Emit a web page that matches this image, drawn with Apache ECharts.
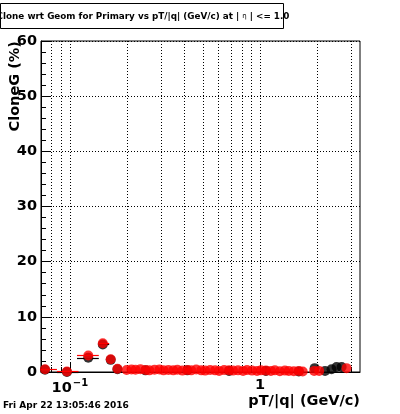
<!DOCTYPE html>
<html><head><meta charset="utf-8">
<script src="https://cdn.jsdelivr.net/npm/echarts@6/dist/echarts.min.js"></script>
<style>html,body{margin:0;padding:0;background:#fff}#c{width:400px;height:414px}</style>
</head><body><div id="c"></div>
<script>
const titlePre = 'Clone wrt Geom for Primary vs pT/|q| (GeV/c) at | ';
const titleEta = 'η';
const titlePost = ' | <= 1.0';
const xTitle = 'pT/|q| (GeV/c)';
const yTitle = 'CloneG (%)';
const dateText = 'Fri Apr 22 13:05:46 2016';

const xMin = 0.0705, xMax = 3.36;
const yMin = 0, yMax = 60, yStep = 10;
const xGridTicks = [0.08, 0.09, 0.1, 0.2, 0.3, 0.4, 0.5, 0.6, 0.7, 0.8, 0.9, 1, 2, 3];
const xMajorTicks = [0.1, 1];

const redX = [0.074, 0.0965, 0.125, 0.149, 0.164, 0.178,
  0.199, 0.211, 0.2215, 0.235, 0.250, 0.262, 0.279, 0.296, 0.311, 0.330,
  0.350, 0.368, 0.391, 0.415, 0.435, 0.462, 0.491, 0.515, 0.547, 0.581,
  0.610, 0.648, 0.688, 0.722, 0.767, 0.815, 0.855, 0.908, 0.965, 1.012,
  1.075, 1.142, 1.198, 1.273, 1.352, 1.418, 1.507, 1.601, 1.679,
  1.929, 2.049, 2.854];
const redY = [0.5, 0.1, 3.0, 5.2, 2.3, 0.6,
  0.35, 0.45, 0.4, 0.5, 0.35, 0.3, 0.4, 0.45, 0.3, 0.35,
  0.3, 0.4, 0.25, 0.35, 0.3, 0.45, 0.3, 0.25, 0.35, 0.3,
  0.2, 0.35, 0.3, 0.25, 0.3, 0.2, 0.35, 0.25, 0.2, 0.3,
  0.25, 0.2, 0.3, 0.15, 0.25, 0.2, 0.15, 0.2, 0.1,
  0.2, 0.2, 0.7];

const blackX = [0.074, 0.0965, 0.125, 0.149, 0.164, 0.178, 0.25, 0.415, 0.688, 1.075, 1.601, 1.94, 2.2, 2.38, 2.53, 2.69];
const blackY = [0.4, 0.0, 2.6, 5.0, 2.2, 0.5, 0.3, 0.3, 0.2, 0.2, 0.1, 0.7, 0.2, 0.5, 0.9, 0.9];

const redErrY = [0.5, 0.1, 3.0, 5.2];
const redErrLo = [0.0705, 0.0855, 0.109, 0.142];
const redErrHi = [0.0855, 0.111, 0.142, 0.161];
const blackErrY = [0.0, 2.6, 5.0];
const blackErrLo = [0.0855, 0.109, 0.142];
const blackErrHi = [0.111, 0.142, 0.161];

const FONT = '"DejaVu Sans", sans-serif';
const chart = echarts.init(document.getElementById('c'), null, {renderer: 'canvas'});

function px(v) { return Math.round(v) + 0.5; }

function errSeries(lo, hi, ys, color, z) {
  return {
    type: 'custom', z: z, silent: true, clip: false,
    data: ys.map((y, i) => [lo[i], hi[i], y]),
    encode: {x: [0, 1], y: 2},
    renderItem(params, api) {
      const a = api.coord([api.value(0), api.value(2)]);
      const b = api.coord([api.value(1), api.value(2)]);
      return {type: 'line', shape: {x1: a[0], y1: px(a[1]), x2: b[0], y2: px(b[1])},
        style: {stroke: color, lineWidth: 1.2}};
    }
  };
}

const option = {
  animation: false,
  backgroundColor: '#fff',
  grid: {left: 41, right: 40, top: 41, bottom: 42, show: true, borderColor: '#000', borderWidth: 1, backgroundColor: 'transparent'},
  xAxis: {
    type: 'log', min: xMin, max: xMax,
    axisLine: {show: true, lineStyle: {color: '#000', width: 1}},
    axisTick: {show: false}, splitLine: {show: false}, minorTick: {show: false},
    axisLabel: {
      margin: 6, color: '#000',
      formatter: function (v) {
        if (Math.abs(Math.log10(v) + 1) < 1e-6) return '{b|10}{s|−1}';
        if (Math.abs(Math.log10(v)) < 1e-6) return '{b|1}';
        return '';
      },
      rich: {
        b: {fontFamily: FONT, fontWeight: 'bold', fontSize: 14.5, color: '#000'},
        s: {fontFamily: FONT, fontWeight: 'bold', fontSize: 10, color: '#000', verticalAlign: 'top', padding: [0, 0, 10, 1]}
      }
    }
  },
  yAxis: {
    type: 'value', min: yMin, max: yMax, interval: yStep,
    axisLine: {show: true, lineStyle: {color: '#000', width: 1}},
    axisTick: {show: true, inside: true, length: 9, lineStyle: {color: '#000'}},
    minorTick: {show: true, splitNumber: 5, length: 5, lineStyle: {color: '#000'}},
    splitLine: {show: true, lineStyle: {color: '#000', width: 1, type: [1, 2]}},
    axisLabel: {margin: 4, color: '#000', fontFamily: FONT, fontWeight: 'bold', fontSize: 14.5}
  },
  graphic: [
    {type: 'rect', left: 0, top: 3, shape: {x: 0.5, y: 0.5, width: 283, height: 25}, style: {fill: '#fff', stroke: '#000', lineWidth: 1}, z: 10},
    {type: 'text', x: 143, y: 16.5, z: 11, style: {
      text: '{a|' + titlePre + '}{e|' + titleEta + '}{a|' + titlePost + '}',
      textAlign: 'center', textVerticalAlign: 'middle', align: 'center', verticalAlign: 'middle',
      rich: {
        a: {fontFamily: FONT, fontWeight: 'bold', fontSize: 8.8, fill: '#000'},
        e: {fontFamily: FONT, fontWeight: 'normal', fontSize: 7, fill: '#000'}
      }
    }},
    {type: 'text', x: 15, y: 41, rotation: Math.PI / 2, z: 11, style: {
      text: yTitle, font: 'bold 14.5px ' + FONT, fill: '#000',
      textAlign: 'right', textVerticalAlign: 'middle', align: 'right', verticalAlign: 'middle'}},
    {type: 'text', x: 360, y: 401, z: 11, style: {
      text: xTitle, font: 'bold 14.5px ' + FONT, fill: '#000',
      textAlign: 'right', textVerticalAlign: 'middle', align: 'right', verticalAlign: 'middle'}},
    {type: 'text', x: 3, y: 406, z: 11, style: {
      text: dateText, font: 'bold 9px ' + FONT, fill: '#000',
      textAlign: 'left', textVerticalAlign: 'middle', align: 'left', verticalAlign: 'middle'}}
  ],
  series: [
    {
      type: 'custom', z: 1, silent: true, clip: false,
      data: xGridTicks.map(v => [v, yMin]),
      encode: {x: 0, y: 1},
      renderItem(params, api) {
        const v = api.value(0);
        const b = api.coord([v, yMin]);
        const t = api.coord([v, yMax]);
        const x = px(b[0]);
        const major = xMajorTicks.indexOf(v) >= 0;
        return {type: 'group', children: [
          {type: 'line', shape: {x1: x, y1: b[1], x2: x, y2: t[1]}, style: {stroke: '#000', lineWidth: 1, lineDash: [1, 2]}},
          {type: 'line', shape: {x1: x, y1: b[1], x2: x, y2: b[1] - (major ? 10 : 5)}, style: {stroke: '#000', lineWidth: 1}}
        ]};
      }
    },
    errSeries(blackErrLo, blackErrHi, blackErrY, '#000', 2),
    {type: 'scatter', z: 3, silent: true, symbol: 'circle', symbolSize: 10, clip: false,
      itemStyle: {color: '#000'},
      data: blackX.map((x, i) => [x, blackY[i]])},
    errSeries(redErrLo, redErrHi, redErrY, '#ff0000', 4),
    {type: 'scatter', z: 5, silent: true, symbol: 'circle', symbolSize: 10, clip: false,
      itemStyle: {color: '#ff0000'},
      data: redX.map((x, i) => [x, redY[i]])}
  ]
};
chart.setOption(option);
</script>
</body></html>
